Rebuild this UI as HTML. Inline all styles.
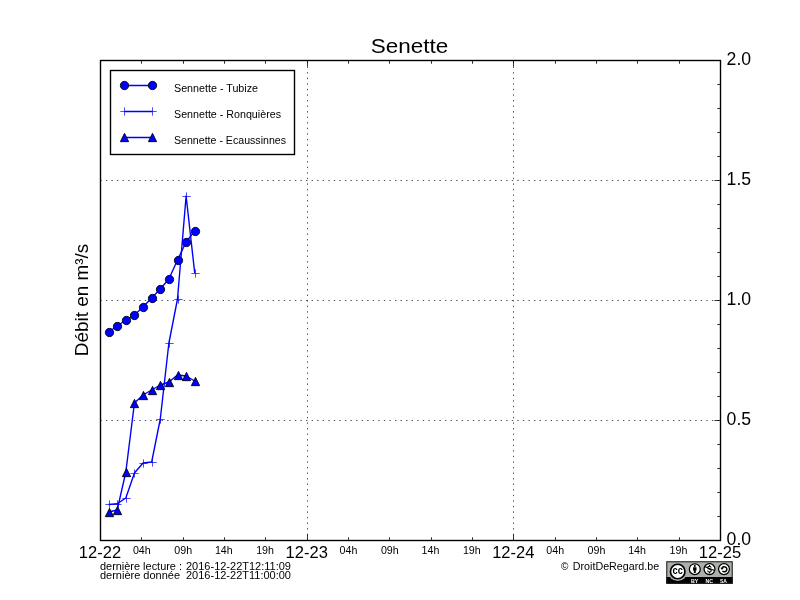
<!DOCTYPE html>
<html lang="fr">
<head>
<meta charset="utf-8">
<title>Senette</title>
<style>
html,body{margin:0;padding:0;background:#fff;}
body{width:800px;height:600px;overflow:hidden;font-family:"Liberation Sans",sans-serif;}
svg{display:block;will-change:transform;}
text{font-family:"Liberation Sans",sans-serif;fill:#000;}
text.w{fill:#fff;}
</style>
</head>
<body>
<svg width="800" height="600" viewBox="0 0 800 600">
<rect x="0" y="0" width="800" height="600" fill="#ffffff"/>

<g stroke="#000" stroke-width="0.69" stroke-dasharray="1.39 4.17" fill="none">
<line x1="100.3" y1="420.5" x2="720" y2="420.5"/>
<line x1="100.3" y1="300.5" x2="720" y2="300.5"/>
<line x1="100.3" y1="180.5" x2="720" y2="180.5"/>
<line x1="307.5" y1="540.6" x2="307.5" y2="60"/>
<line x1="513.5" y1="540.6" x2="513.5" y2="60"/>
</g>
<polyline fill="none" stroke="#0000ff" stroke-width="1.39" stroke-linejoin="round" points="108.61,332.00 117.22,326.00 125.83,320.00 134.44,315.00 143.06,307.00 151.67,298.00 160.28,289.00 168.89,279.00 177.50,260.00 186.11,242.00 194.72,231.00"/>
<g fill="#0000ff" stroke="#000" stroke-width="0.85"><circle cx="109.50" cy="332.50" r="4.17"/><circle cx="117.50" cy="326.50" r="4.17"/><circle cx="126.50" cy="320.50" r="4.17"/><circle cx="134.50" cy="315.50" r="4.17"/><circle cx="143.50" cy="307.50" r="4.17"/><circle cx="152.50" cy="298.50" r="4.17"/><circle cx="160.50" cy="289.50" r="4.17"/><circle cx="169.50" cy="279.50" r="4.17"/><circle cx="178.50" cy="260.50" r="4.17"/><circle cx="186.50" cy="242.50" r="4.17"/><circle cx="195.50" cy="231.50" r="4.17"/></g>
<polyline fill="none" stroke="#0000ff" stroke-width="1.39" stroke-linejoin="round" points="108.61,504.45 117.22,503.75 125.83,498.00 134.44,473.00 143.06,463.00 151.67,462.00 160.28,419.00 168.89,343.00 177.50,299.00 186.11,196.00 194.72,273.00"/>
<g fill="none" stroke="#0000ff" stroke-width="0.69"><path d="M105.33 504.50H113.67M109.50 500.33V508.67"/><path d="M113.33 504.50H121.67M117.50 500.33V508.67"/><path d="M122.33 498.50H130.67M126.50 494.33V502.67"/><path d="M130.33 473.50H138.67M134.50 469.33V477.67"/><path d="M139.33 463.50H147.67M143.50 459.33V467.67"/><path d="M148.33 462.50H156.67M152.50 458.33V466.67"/><path d="M156.33 419.50H164.67M160.50 415.33V423.67"/><path d="M165.33 343.50H173.67M169.50 339.33V347.67"/><path d="M174.33 299.50H182.67M178.50 295.33V303.67"/><path d="M182.33 196.50H190.67M186.50 192.33V200.67"/><path d="M191.33 273.50H199.67M195.50 269.33V277.67"/></g>
<polyline fill="none" stroke="#0000ff" stroke-width="1.39" stroke-linejoin="round" points="108.61,512.00 117.22,510.00 125.83,472.00 134.44,403.00 143.06,395.00 151.67,390.00 160.28,385.00 168.89,382.00 177.50,375.00 186.11,376.00 194.72,381.00"/>
<g fill="#0000ff" stroke="#000" stroke-width="0.85"><path d="M109.50 508.33L113.67 516.67L105.33 516.67Z"/><path d="M117.50 506.33L121.67 514.67L113.33 514.67Z"/><path d="M126.50 468.33L130.67 476.67L122.33 476.67Z"/><path d="M134.50 399.33L138.67 407.67L130.33 407.67Z"/><path d="M143.50 391.33L147.67 399.67L139.33 399.67Z"/><path d="M152.50 386.33L156.67 394.67L148.33 394.67Z"/><path d="M160.50 381.33L164.67 389.67L156.33 389.67Z"/><path d="M169.50 378.33L173.67 386.67L165.33 386.67Z"/><path d="M178.50 371.33L182.67 379.67L174.33 379.67Z"/><path d="M186.50 372.33L190.67 380.67L182.33 380.67Z"/><path d="M195.50 377.33L199.67 385.67L191.33 385.67Z"/></g>
<rect x="100.5" y="60.5" width="620.0" height="480.0" fill="none" stroke="#000" stroke-width="1.39"/>
<g stroke="#000" stroke-width="0.8" fill="none">
<path d="M100.5 540v-5.56M100.5 61v5.56"/>
<path d="M141.5 540v-2.78M141.5 61v2.78"/>
<path d="M183.5 540v-2.78M183.5 61v2.78"/>
<path d="M224.5 540v-2.78M224.5 61v2.78"/>
<path d="M265.5 540v-2.78M265.5 61v2.78"/>
<path d="M307.5 540v-5.56M307.5 61v5.56"/>
<path d="M348.5 540v-2.78M348.5 61v2.78"/>
<path d="M389.5 540v-2.78M389.5 61v2.78"/>
<path d="M431.5 540v-2.78M431.5 61v2.78"/>
<path d="M472.5 540v-2.78M472.5 61v2.78"/>
<path d="M513.5 540v-5.56M513.5 61v5.56"/>
<path d="M555.5 540v-2.78M555.5 61v2.78"/>
<path d="M596.5 540v-2.78M596.5 61v2.78"/>
<path d="M637.5 540v-2.78M637.5 61v2.78"/>
<path d="M679.5 540v-2.78M679.5 61v2.78"/>
<path d="M720.5 540v-5.56M720.5 61v5.56"/>
<path d="M720 540.5h-5.56"/>
<path d="M720 516.5h-2.78"/>
<path d="M720 492.5h-2.78"/>
<path d="M720 468.5h-2.78"/>
<path d="M720 444.5h-2.78"/>
<path d="M720 420.5h-5.56"/>
<path d="M720 396.5h-2.78"/>
<path d="M720 372.5h-2.78"/>
<path d="M720 348.5h-2.78"/>
<path d="M720 324.5h-2.78"/>
<path d="M720 300.5h-5.56"/>
<path d="M720 276.5h-2.78"/>
<path d="M720 252.5h-2.78"/>
<path d="M720 228.5h-2.78"/>
<path d="M720 204.5h-2.78"/>
<path d="M720 180.5h-5.56"/>
<path d="M720 156.5h-2.78"/>
<path d="M720 132.5h-2.78"/>
<path d="M720 108.5h-2.78"/>
<path d="M720 84.5h-2.78"/>
<path d="M720 60.5h-5.56"/>
</g>
<text x="409.5" y="53" font-size="20.4" text-anchor="middle" textLength="77.5" lengthAdjust="spacingAndGlyphs">Senette</text>
<text x="726.6" y="544.7" font-size="18.3" text-anchor="start" textLength="24.5" lengthAdjust="spacingAndGlyphs">0.0</text>
<text x="726.6" y="424.7" font-size="18.3" text-anchor="start" textLength="24.5" lengthAdjust="spacingAndGlyphs">0.5</text>
<text x="726.6" y="304.7" font-size="18.3" text-anchor="start" textLength="24.5" lengthAdjust="spacingAndGlyphs">1.0</text>
<text x="726.6" y="184.7" font-size="18.3" text-anchor="start" textLength="24.5" lengthAdjust="spacingAndGlyphs">1.5</text>
<text x="726.6" y="64.7" font-size="18.3" text-anchor="start" textLength="24.5" lengthAdjust="spacingAndGlyphs">2.0</text>
<text x="100.0" y="558" font-size="17" text-anchor="middle" textLength="42.3" lengthAdjust="spacingAndGlyphs">12-22</text>
<text x="306.7" y="558" font-size="17" text-anchor="middle" textLength="42.3" lengthAdjust="spacingAndGlyphs">12-23</text>
<text x="513.3" y="558" font-size="17" text-anchor="middle" textLength="42.3" lengthAdjust="spacingAndGlyphs">12-24</text>
<text x="720.0" y="558" font-size="17" text-anchor="middle" textLength="42.3" lengthAdjust="spacingAndGlyphs">12-25</text>
<text x="141.8" y="553.5" font-size="10" text-anchor="middle" textLength="17.8" lengthAdjust="spacingAndGlyphs">04h</text>
<text x="183.2" y="553.5" font-size="10" text-anchor="middle" textLength="17.8" lengthAdjust="spacingAndGlyphs">09h</text>
<text x="223.8" y="553.5" font-size="10" text-anchor="middle" textLength="17.8" lengthAdjust="spacingAndGlyphs">14h</text>
<text x="265.1" y="553.5" font-size="10" text-anchor="middle" textLength="17.8" lengthAdjust="spacingAndGlyphs">19h</text>
<text x="348.5" y="553.5" font-size="10" text-anchor="middle" textLength="17.8" lengthAdjust="spacingAndGlyphs">04h</text>
<text x="389.8" y="553.5" font-size="10" text-anchor="middle" textLength="17.8" lengthAdjust="spacingAndGlyphs">09h</text>
<text x="430.5" y="553.5" font-size="10" text-anchor="middle" textLength="17.8" lengthAdjust="spacingAndGlyphs">14h</text>
<text x="471.8" y="553.5" font-size="10" text-anchor="middle" textLength="17.8" lengthAdjust="spacingAndGlyphs">19h</text>
<text x="555.2" y="553.5" font-size="10" text-anchor="middle" textLength="17.8" lengthAdjust="spacingAndGlyphs">04h</text>
<text x="596.5" y="553.5" font-size="10" text-anchor="middle" textLength="17.8" lengthAdjust="spacingAndGlyphs">09h</text>
<text x="637.1" y="553.5" font-size="10" text-anchor="middle" textLength="17.8" lengthAdjust="spacingAndGlyphs">14h</text>
<text x="678.5" y="553.5" font-size="10" text-anchor="middle" textLength="17.8" lengthAdjust="spacingAndGlyphs">19h</text>
<text transform="translate(88,300) rotate(-90)" font-size="18.3" text-anchor="middle" textLength="112.5" lengthAdjust="spacingAndGlyphs">Débit en m³/s</text>
<rect x="110.5" y="70.5" width="184" height="84" fill="#fff" stroke="#000" stroke-width="1.39"/>
<g fill="none" stroke="#0000ff" stroke-width="1.39"><path d="M124.5 85.5H152.5M124.5 111.5H152.5M124.5 137.5H152.5"/></g>
<g fill="#0000ff" stroke="#000" stroke-width="0.85">
<circle cx="124.50" cy="85.50" r="4.17"/><circle cx="152.50" cy="85.50" r="4.17"/><path d="M124.50 133.33L128.67 141.67L120.33 141.67Z"/><path d="M152.50 133.33L156.67 141.67L148.33 141.67Z"/>
</g>
<g fill="none" stroke="#0000ff" stroke-width="0.69"><path d="M120.33 111.50H128.67M124.50 107.33V115.67"/><path d="M148.33 111.50H156.67M152.50 107.33V115.67"/></g>
<text x="174" y="91.5" font-size="10" text-anchor="start" textLength="84" lengthAdjust="spacingAndGlyphs">Sennette - Tubize</text>
<text x="174" y="117.5" font-size="10" text-anchor="start" textLength="107" lengthAdjust="spacingAndGlyphs">Sennette - Ronquières</text>
<text x="174" y="143.5" font-size="10" text-anchor="start" textLength="112" lengthAdjust="spacingAndGlyphs">Sennette - Ecaussinnes</text>
<text font-size="10" y="569.5"><tspan x="100" textLength="82" lengthAdjust="spacingAndGlyphs">dernière lecture :</tspan> <tspan x="186" textLength="105" lengthAdjust="spacingAndGlyphs">2016-12-22T12:11:09</tspan></text>
<text font-size="10" y="578.5"><tspan x="100" textLength="80" lengthAdjust="spacingAndGlyphs">dernière donnée</tspan> <tspan x="186" textLength="105" lengthAdjust="spacingAndGlyphs">2016-12-22T11:00:00</tspan></text>
<text font-size="10" y="569.5"><tspan x="560.9">©</tspan> <tspan x="572.8" textLength="86.3" lengthAdjust="spacingAndGlyphs">DroitDeRegard.be</tspan></text>
<g id="cc">
<rect x="666.3" y="561.3" width="66.4" height="22.4" fill="#abb1aa"/>
<path d="M666.3 577H732.7V583.7H666.3Z" fill="#000"/>
<circle cx="677.7" cy="571.5" r="9.6" fill="#abb1aa"/>
<rect x="666.8" y="561.8" width="65.4" height="21.4" fill="none" stroke="#1a1a1a" stroke-width="1"/>
<circle cx="677.7" cy="571.5" r="7.25" fill="#fff" stroke="#000" stroke-width="1.7"/>
<text class="k" x="677.7" y="573.9" font-size="10.2" font-weight="bold" text-anchor="middle" textLength="10.2" lengthAdjust="spacingAndGlyphs">cc</text>
<circle cx="694.8" cy="569.2" r="5.45" fill="#fff" stroke="#000" stroke-width="1.25"/>
<circle cx="709.5" cy="569.1" r="5.45" fill="#fff" stroke="#000" stroke-width="1.25"/>
<circle cx="724" cy="569.1" r="5.45" fill="#fff" stroke="#000" stroke-width="1.25"/>
<circle cx="694.8" cy="566" r="1.05" fill="#000"/>
<path d="M693.1 567.3h3.4v3.3h-0.75v2.5h-1.9v-2.5h-0.75z" fill="#000"/>
<path d="M704.5 566.6l10 3.9" stroke="#000" stroke-width="1.1" fill="none"/>
<path d="M711.2 567.6c-0.3-0.9-1-1.3-1.8-1.3c-1 0-1.8 0.5-1.8 1.4c0 2 3.7 0.9 3.7 2.9c0 0.9-0.8 1.5-1.9 1.5c-1 0-1.7-0.5-1.9-1.4" stroke="#000" stroke-width="1.05" fill="none"/>
<path d="M709.5 564.9v1.5M709.5 572v1.4" stroke="#000" stroke-width="1.1" fill="none"/>
<path d="M722 568.2A2.55 2.55 0 1 1 722.5 571" stroke="#000" stroke-width="1.45" fill="none"/>
<path d="M720.4 567.8h3.3l-1.65 2.3z" fill="#000"/>
<g font-weight="bold" font-size="5.6" text-anchor="middle">
<text class="w" x="694.7" y="582.6" textLength="7.4" lengthAdjust="spacingAndGlyphs">BY</text>
<text class="w" x="709.2" y="582.6" textLength="7.6" lengthAdjust="spacingAndGlyphs">NC</text>
<text class="w" x="723.5" y="582.6" textLength="7" lengthAdjust="spacingAndGlyphs">SA</text>
</g>
</g>
</svg>
</body>
</html>
